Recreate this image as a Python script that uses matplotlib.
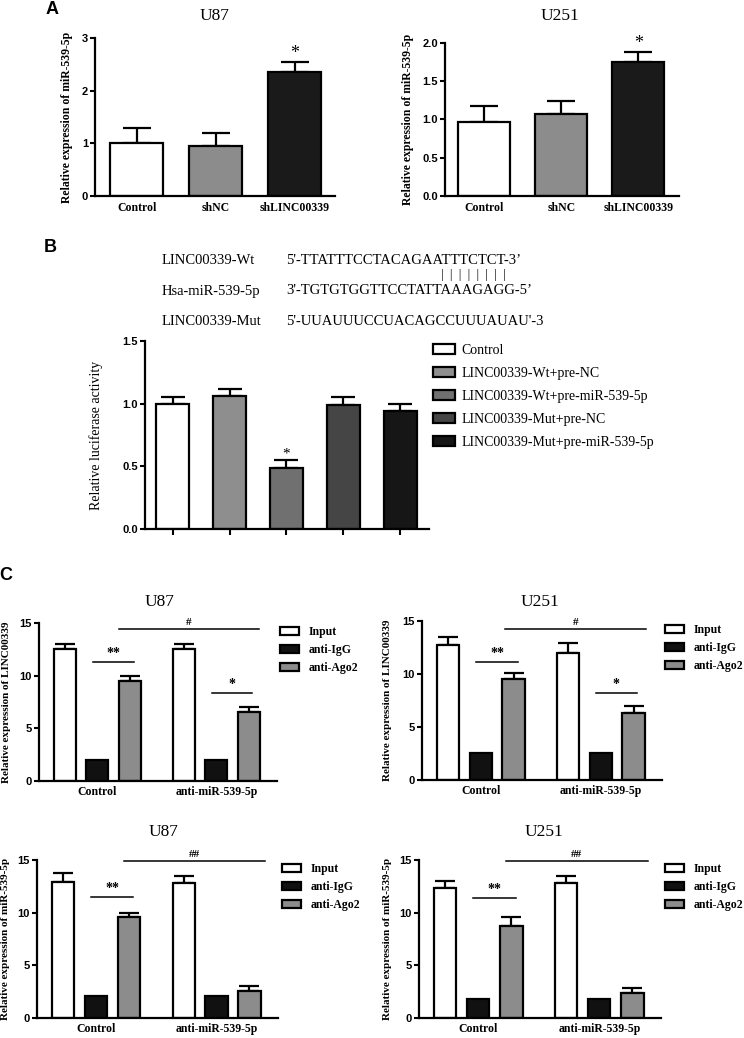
import numpy as np
import matplotlib
matplotlib.use("Agg")
import matplotlib.pyplot as plt
from matplotlib.patches import Patch

W, H = 744, 1038
SERIF = ["Liberation Serif", "DejaVu Serif"]
SANS = ["Liberation Sans", "DejaVu Sans"]
plt.rcParams["font.family"] = SERIF

# ---------------- data ----------------
a_categories = ["Control", "shNC", "shLINC00339"]
a_colors = ["#ffffff", "#8c8c8c", "#1a1a1a"]
a_u87_vals = [1.00, 0.94, 2.36]
a_u87_err = [0.29, 0.25, 0.19]
a_u87_ticks = [0, 1, 2, 3]
a_u87_ticklabels = ["0", "1", "2", "3"]
a_u251_vals = [0.97, 1.07, 1.75]
a_u251_err = [0.20, 0.17, 0.13]
a_u251_ticks = [0.0, 0.5, 1.0, 1.5, 2.0]
a_u251_ticklabels = ["0.0", "0.5", "1.0", "1.5", "2.0"]

b_labels = ["Control", "LINC00339-Wt+pre-NC", "LINC00339-Wt+pre-miR-539-5p",
            "LINC00339-Mut+pre-NC", "LINC00339-Mut+pre-miR-539-5p"]
b_colors = ["#ffffff", "#8e8e8e", "#707070", "#454545", "#161616"]
b_vals = [1.00, 1.06, 0.49, 0.99, 0.94]
b_err = [0.05, 0.06, 0.06, 0.06, 0.06]
b_ticks = [0.0, 0.5, 1.0, 1.5]
b_ticklabels = ["0.0", "0.5", "1.0", "1.5"]

c_groups = ["Control", "anti-miR-539-5p"]
c_series = ["Input", "anti-IgG", "anti-Ago2"]
c_colors = ["#ffffff", "#111111", "#8c8c8c"]
c_ticks = [0, 5, 10, 15]
c_ticklabels = ["0", "5", "10", "15"]
# values per series: [Control, anti-miR-539-5p]
c1_input = [12.55, 12.55]; c1_input_err = [0.45, 0.45]
c1_igg = [2.0, 2.0]
c1_ago2 = [9.52, 6.5]; c1_ago2_err = [0.48, 0.48]
c2_input = [12.77, 12.0]; c2_input_err = [0.73, 0.96]
c2_igg = [2.5, 2.5]
c2_ago2 = [9.5, 6.26]; c2_ago2_err = [0.54, 0.74]
c3_input = [12.93, 12.83]; c3_input_err = [0.87, 0.67]
c3_igg = [2.05, 2.05]
c3_ago2 = [9.54, 2.54]; c3_ago2_err = [0.44, 0.46]
c4_input = [12.3, 12.78]; c4_input_err = [0.72, 0.72]
c4_igg = [1.8, 1.8]
c4_ago2 = [8.75, 2.32]; c4_ago2_err = [0.8, 0.48]

seq_names = ["LINC00339-Wt", "Hsa-miR-539-5p", "LINC00339-Mut"]
seq_texts = ["5'-TTATTTCCTACAGAATTTCTCT-3\u2019",
             "3'-TGTGTGGTTCCTATTAAAGAGG-5\u2019",
             "5'-UUAUUUCCUACAGCCUUUAUAU'-3"]

# ---------------- helpers ----------------
fig = plt.figure(figsize=(W / 100, H / 100), dpi=100)


def add_ax(l, t, r, b):
    return fig.add_axes([l / W, 1 - b / H, (r - l) / W, (b - t) / H])


def fx(px):
    return px / W


def fy(py):
    return 1 - py / H


def style(ax, ylim, ticks, ticklabels, xticks_on=False):
    for s in ["top", "right"]:
        ax.spines[s].set_visible(False)
    for s in ["left", "bottom"]:
        ax.spines[s].set_linewidth(1.6)
    ax.set_ylim(*ylim)
    ax.set_yticks(ticks)
    ax.set_yticklabels(ticklabels, fontfamily=SANS, fontweight="bold", fontsize=8)
    ax.tick_params(axis="y", direction="out", length=3.5, width=1.5, pad=1.5)
    if not xticks_on:
        ax.tick_params(axis="x", length=0, pad=4)


def set_ylabel_px(ax, text, xpx, l, r, **kw):
    ax.set_ylabel(text, **kw)
    ax.yaxis.set_label_coords((xpx - l) / (r - l), 0.5)


# ---------------- Panel A ----------------
def panel_a(l, t, r, b, vals, err, ylim, ticks, tl, title, title_xy, ylab_x, xlim):
    ax = add_ax(l, t, r, b)
    x = np.arange(len(vals))
    ax.errorbar(x, vals, yerr=[np.zeros(len(err)), err], fmt="none", ecolor="black",
                elinewidth=1.6, capsize=10, capthick=1.6, zorder=1)
    ax.bar(x, vals, width=0.67, color=a_colors, edgecolor="black", linewidth=1.6, zorder=2)
    ax.set_xlim(*xlim)
    style(ax, ylim, ticks, tl)
    ax.set_xticks(x)
    ax.set_xticklabels(a_categories, fontweight="bold", fontsize=8.5)
    set_ylabel_px(ax, "Relative expression of miR-539-5p", ylab_x, l, r,
                  fontweight="bold", fontsize=8.5)
    ax.text(2, vals[2] + err[2], "*", ha="center", va="bottom", fontsize=13)
    fig.text(fx(title_xy[0]), fy(title_xy[1]), title, ha="center", va="center", fontsize=12.5)
    return ax


panel_a(95, 38, 335, 196, a_u87_vals, a_u87_err, (0, 3), a_u87_ticks, a_u87_ticklabels,
        "U87", (215, 16), 73, (-0.53, 2.51))
panel_a(445, 43, 679, 196, a_u251_vals, a_u251_err, (0, 2), a_u251_ticks, a_u251_ticklabels,
        "U251", (560, 16), 414, (-0.51, 2.53))

fig.text(fx(52), fy(10), "A", family=SANS, fontweight="bold", fontsize=13, ha="center", va="center")
fig.text(fx(50), fy(247), "B", family=SANS, fontweight="bold", fontsize=13, ha="center", va="center")
fig.text(fx(6), fy(575), "C", family=SANS, fontweight="bold", fontsize=13, ha="center", va="center")

# ---------------- Panel B ----------------
seq_y = [261, 291, 322]
for name, seq, yy in zip(seq_names, seq_texts, seq_y):
    fig.text(fx(162), fy(yy), name, ha="left", va="center", fontsize=10.5)
    fig.text(fx(286), fy(yy), seq, ha="left", va="center", fontsize=10.5)
fig.text(fx(441), fy(275), "|  |  |  |  |  |  |  |", ha="left", va="center", fontsize=9)

axb = add_ax(145, 341, 429, 529)
xb = np.arange(len(b_vals))
axb.errorbar(xb, b_vals, yerr=[np.zeros(len(b_err)), b_err], fmt="none", ecolor="black",
             elinewidth=1.6, capsize=8.5, capthick=1.6, zorder=1)
bars_b = axb.bar(xb, b_vals, width=0.58, color=b_colors, edgecolor="black", linewidth=1.6, zorder=2)
axb.set_xlim(-0.49, 4.51)
style(axb, (0, 1.5), b_ticks, b_ticklabels, xticks_on=True)
axb.set_xticks(xb)
axb.set_xticklabels([])
axb.tick_params(axis="x", direction="out", length=4, width=1.5)
set_ylabel_px(axb, "Relative luciferase activity", 103, 145, 429, fontsize=10)
axb.text(2, b_vals[2] + b_err[2], "*", ha="center", va="bottom", fontsize=11)
handles = [Patch(facecolor=c, edgecolor="black", linewidth=1.6) for c in b_colors]
fig.legend(handles, b_labels, loc="upper left", bbox_to_anchor=(fx(433), fy(344)),
           frameon=False, fontsize=10, handlelength=1.6, handleheight=0.7,
           handletextpad=0.45, labelspacing=0.72, borderpad=0, borderaxespad=0)


# ---------------- Panel C ----------------
def panel_c(l, t, r, b, inp, inp_err, igg, ago, ago_err, ylabel, ylab_x, title, title_xy,
            leg_xy, sig):
    ax = add_ax(l, t, r, b)
    g = np.arange(len(c_groups))
    off = 0.273
    w = 0.185
    ax.errorbar(g - off, inp, yerr=[np.zeros(2), inp_err], fmt="none", ecolor="black",
                elinewidth=1.6, capsize=7.5, capthick=1.6, zorder=1)
    ax.errorbar(g + off, ago, yerr=[np.zeros(2), ago_err], fmt="none", ecolor="black",
                elinewidth=1.6, capsize=7.5, capthick=1.6, zorder=1)
    ax.bar(g - off, inp, width=w, color=c_colors[0], edgecolor="black", linewidth=1.6, zorder=2,
           label=c_series[0])
    ax.bar(g, igg, width=w, color=c_colors[1], edgecolor="black", linewidth=1.6, zorder=2,
           label=c_series[1])
    ax.bar(g + off, ago, width=w, color=c_colors[2], edgecolor="black", linewidth=1.6, zorder=2,
           label=c_series[2])
    ax.set_xlim(-0.49, 0.51 + 1)
    style(ax, (0, 15), c_ticks, c_ticklabels)
    ax.set_xticks(g)
    ax.set_xticklabels(c_groups, fontweight="bold", fontsize=8.5)
    set_ylabel_px(ax, ylabel, ylab_x, l, r, fontweight="bold", fontsize=8)
    fig.text(fx(title_xy[0]), fy(title_xy[1]), title, ha="center", va="center", fontsize=12.5)
    for (x0, x1, yv, s, fs) in sig:
        ax.plot([x0, x1], [yv, yv], color="black", lw=1.1, clip_on=False)
        ax.text((x0 + x1) / 2, yv + 0.2, s, ha="center", va="bottom", fontsize=fs,
                fontweight="bold", clip_on=False)
    ax.legend(loc="upper left", bbox_to_anchor=(fx(leg_xy[0]), fy(leg_xy[1])),
              bbox_transform=fig.transFigure, frameon=False,
              prop={"family": SERIF, "weight": "bold", "size": 8.5},
              handlelength=1.6, handleheight=0.7, handletextpad=0.8, labelspacing=0.5,
              borderpad=0, borderaxespad=0)
    return ax


panel_c(39, 623, 277, 780.7, c1_input, c1_input_err, c1_igg, c1_ago2, c1_ago2_err,
        "Relative expression of LINC00339", 11, "U87", (160, 602), (280, 626),
        [(-0.04, 0.31, 11.3, "**", 10), (0.96, 1.30, 8.3, "*", 10), (0.18, 1.36, 14.4, "#", 8)])
panel_c(422, 621, 662, 779.7, c2_input, c2_input_err, c2_igg, c2_ago2, c2_ago2_err,
        "Relative expression of LINC00339", 392, "U251", (540, 602), (665, 624),
        [(-0.04, 0.31, 11.1, "**", 10), (0.96, 1.30, 8.15, "*", 10), (0.20, 1.38, 14.2, "#", 8)])
panel_c(37, 860, 278, 1017.7, c3_input, c3_input_err, c3_igg, c3_ago2, c3_ago2_err,
        "Relative expression of miR-539-5p", 10, "U87", (164, 832), (282, 863),
        [(-0.04, 0.31, 11.5, "**", 10), (0.23, 1.40, 14.9, "##", 8)])
panel_c(419, 860, 661, 1017.7, c4_input, c4_input_err, c4_igg, c4_ago2, c4_ago2_err,
        "Relative expression of miR-539-5p", 392, "U251", (544, 832), (665, 863),
        [(-0.04, 0.31, 11.4, "**", 10), (0.23, 1.40, 14.9, "##", 8)])

fig.savefig("out.png", dpi=100)
